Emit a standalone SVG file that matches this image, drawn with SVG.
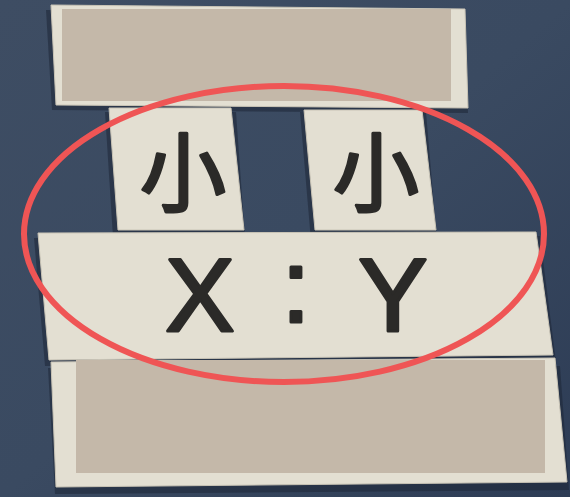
<svg xmlns="http://www.w3.org/2000/svg" width="570" height="497" viewBox="0 0 570 497">
<defs>
<linearGradient id="bg" x1="0" y1="0" x2="1" y2="1">
<stop offset="0" stop-color="#3e4d63"/>
<stop offset="0.5" stop-color="#3a4a61"/>
<stop offset="1" stop-color="#2d3c55"/>
</linearGradient>
<style>
.tile{fill:#e3dfd2;stroke:#c9c4b6;stroke-width:1}
.shadow{fill:#1e2736;opacity:0.55}
.redact{fill:#c4b8a9}
.glyph{font-family:"Noto Sans CJK SC","Noto Sans",sans-serif;fill:#2b2a28;stroke:#2b2a28;stroke-width:3;stroke-linejoin:round}
.latin{font-family:"Liberation Sans","Noto Sans",sans-serif;fill:#2b2a28;stroke:#2b2a28;stroke-width:3;stroke-linejoin:round}
</style>
</defs>
<rect width="570" height="497" fill="url(#bg)"/>
<g id="top-card">
<polygon class="shadow" points="46,10 52,110 468,113 465,12"/>
<polygon class="tile" points="51,5 465,9 468,108 56,105"/>
<rect class="redact" x="62" y="9" width="389" height="92"/>
</g>
<g id="tile-left">
<polygon class="shadow" points="105,112 114,253 246,253 236,112"/>
<polygon class="tile" points="109,108 231,108 244,230 118,230"/>
<text class="glyph" x="183" y="205" font-size="86" text-anchor="middle">小</text>
</g>
<g id="tile-right">
<polygon class="shadow" points="300,112 312,253 438,253 426,112"/>
<polygon class="tile" points="304,110 422,110 436,230 315,230"/>
<text class="glyph" x="376" y="205" font-size="86" text-anchor="middle">小</text>
</g>
<g id="middle-card">
<polygon class="shadow" points="34,238 45,366 556,362 540,236"/>
<polygon class="tile" points="38,233 536,232 553,355 49,360"/>
<text class="latin" font-size="104" text-anchor="middle"><tspan x="200" y="331">X</tspan><tspan x="296" y="322"> : </tspan><tspan x="393" y="331">Y</tspan></text>
</g>
<g id="bottom-card">
<polygon class="shadow" points="48,368 55,494 569,490 560,366"/>
<polygon class="tile" points="51,362 555,358 567,482 56,487"/>
<rect class="redact" x="76" y="360" width="469" height="113"/>
</g>
<ellipse cx="284" cy="234" rx="260" ry="148" fill="none" stroke="#ef5555" stroke-width="6"/>
</svg>
